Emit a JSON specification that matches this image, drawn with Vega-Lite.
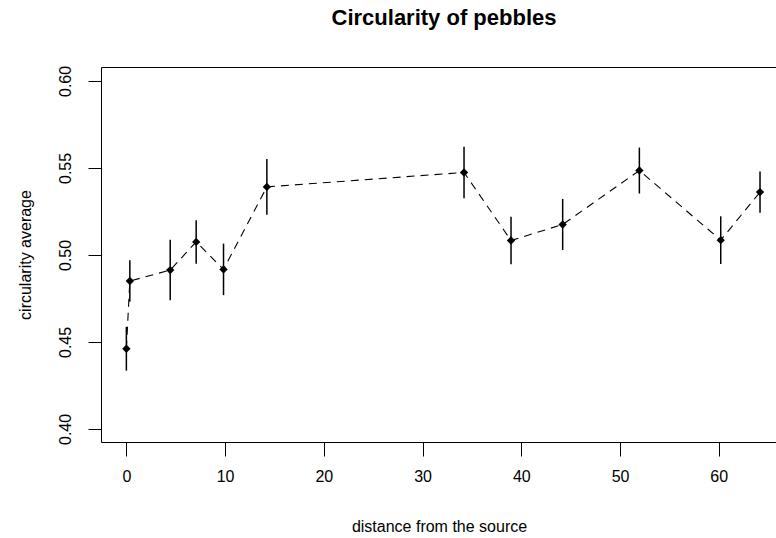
{
  "$schema": "https://vega.github.io/schema/vega-lite/v6.json",
  "autosize": {"type": "none"},
  "padding": {"left": 101, "top": 67, "right": 0, "bottom": 96},
  "width": 676,
  "height": 375,
  "background": "white",
  "config": {
    "font": "Liberation Sans",
    "view": {"stroke": "black", "strokeWidth": 1}
  },
  "title": {
    "text": "Circularity of pebbles",
    "font": "Liberation Sans",
    "fontSize": 22,
    "fontWeight": "bold",
    "color": "black",
    "anchor": "middle",
    "baseline": "alphabetic",
    "offset": 18,
    "dx": 5
  },
  "data": {
    "values": [
      {"distance": 0, "circ": 0.4461, "lo": 0.4335, "hi": 0.4587},
      {"distance": 0.35, "circ": 0.4850, "lo": 0.4731, "hi": 0.4969},
      {"distance": 4.44, "circ": 0.4913, "lo": 0.4739, "hi": 0.5087},
      {"distance": 7.07, "circ": 0.5075, "lo": 0.4950, "hi": 0.5200},
      {"distance": 9.84, "circ": 0.4917, "lo": 0.4769, "hi": 0.5065},
      {"distance": 14.23, "circ": 0.5391, "lo": 0.5231, "hi": 0.5551},
      {"distance": 34.2, "circ": 0.5474, "lo": 0.5326, "hi": 0.5622},
      {"distance": 38.96, "circ": 0.5083, "lo": 0.4947, "hi": 0.5219},
      {"distance": 44.19, "circ": 0.5175, "lo": 0.5028, "hi": 0.5322},
      {"distance": 51.96, "circ": 0.5485, "lo": 0.5353, "hi": 0.5617},
      {"distance": 60.2, "circ": 0.5085, "lo": 0.4948, "hi": 0.5222},
      {"distance": 64.18, "circ": 0.5361, "lo": 0.5243, "hi": 0.5479}
    ]
  },
  "encoding": {
    "x": {
      "field": "distance",
      "type": "quantitative",
      "scale": {"domain": [-2.57, 65.9], "nice": false, "zero": false},
      "axis": {
        "title": "distance from the source",
        "values": [0, 10, 20, 30, 40, 50, 60],
        "grid": false,
        "domain": false,
        "tickColor": "black",
        "tickSize": 14,
        "labelFontSize": 16,
        "labelColor": "black",
        "labelPadding": 12,
        "labelFont": "Liberation Sans",
        "titleFont": "Liberation Sans",
        "titleFontSize": 16,
        "titleFontWeight": "normal",
        "titleColor": "black",
        "titlePadding": 34
      }
    },
    "y": {
      "field": "circ",
      "type": "quantitative",
      "scale": {"domain": [0.3925, 0.608], "nice": false, "zero": false},
      "axis": {
        "title": "circularity average",
        "values": [0.4, 0.45, 0.5, 0.55, 0.6],
        "format": ".2f",
        "grid": false,
        "domain": false,
        "tickColor": "black",
        "tickSize": 13,
        "labelAngle": -90,
        "labelAlign": "center",
        "labelBaseline": "bottom",
        "labelFontSize": 16,
        "labelColor": "black",
        "labelPadding": 15,
        "labelFont": "Liberation Sans",
        "titleFont": "Liberation Sans",
        "titleFontSize": 16,
        "titleFontWeight": "normal",
        "titleColor": "black",
        "titlePadding": 24
      }
    }
  },
  "layer": [
    {
      "mark": {"type": "line", "color": "black", "strokeWidth": 1.1, "strokeDash": [8, 6]}
    },
    {
      "mark": {"type": "rule", "color": "black", "strokeWidth": 1.5},
      "encoding": {"y": {"field": "lo", "type": "quantitative"}, "y2": {"field": "hi"}}
    },
    {
      "mark": {"type": "point", "shape": "diamond", "filled": true, "color": "black", "size": 70, "opacity": 1}
    }
  ]
}
